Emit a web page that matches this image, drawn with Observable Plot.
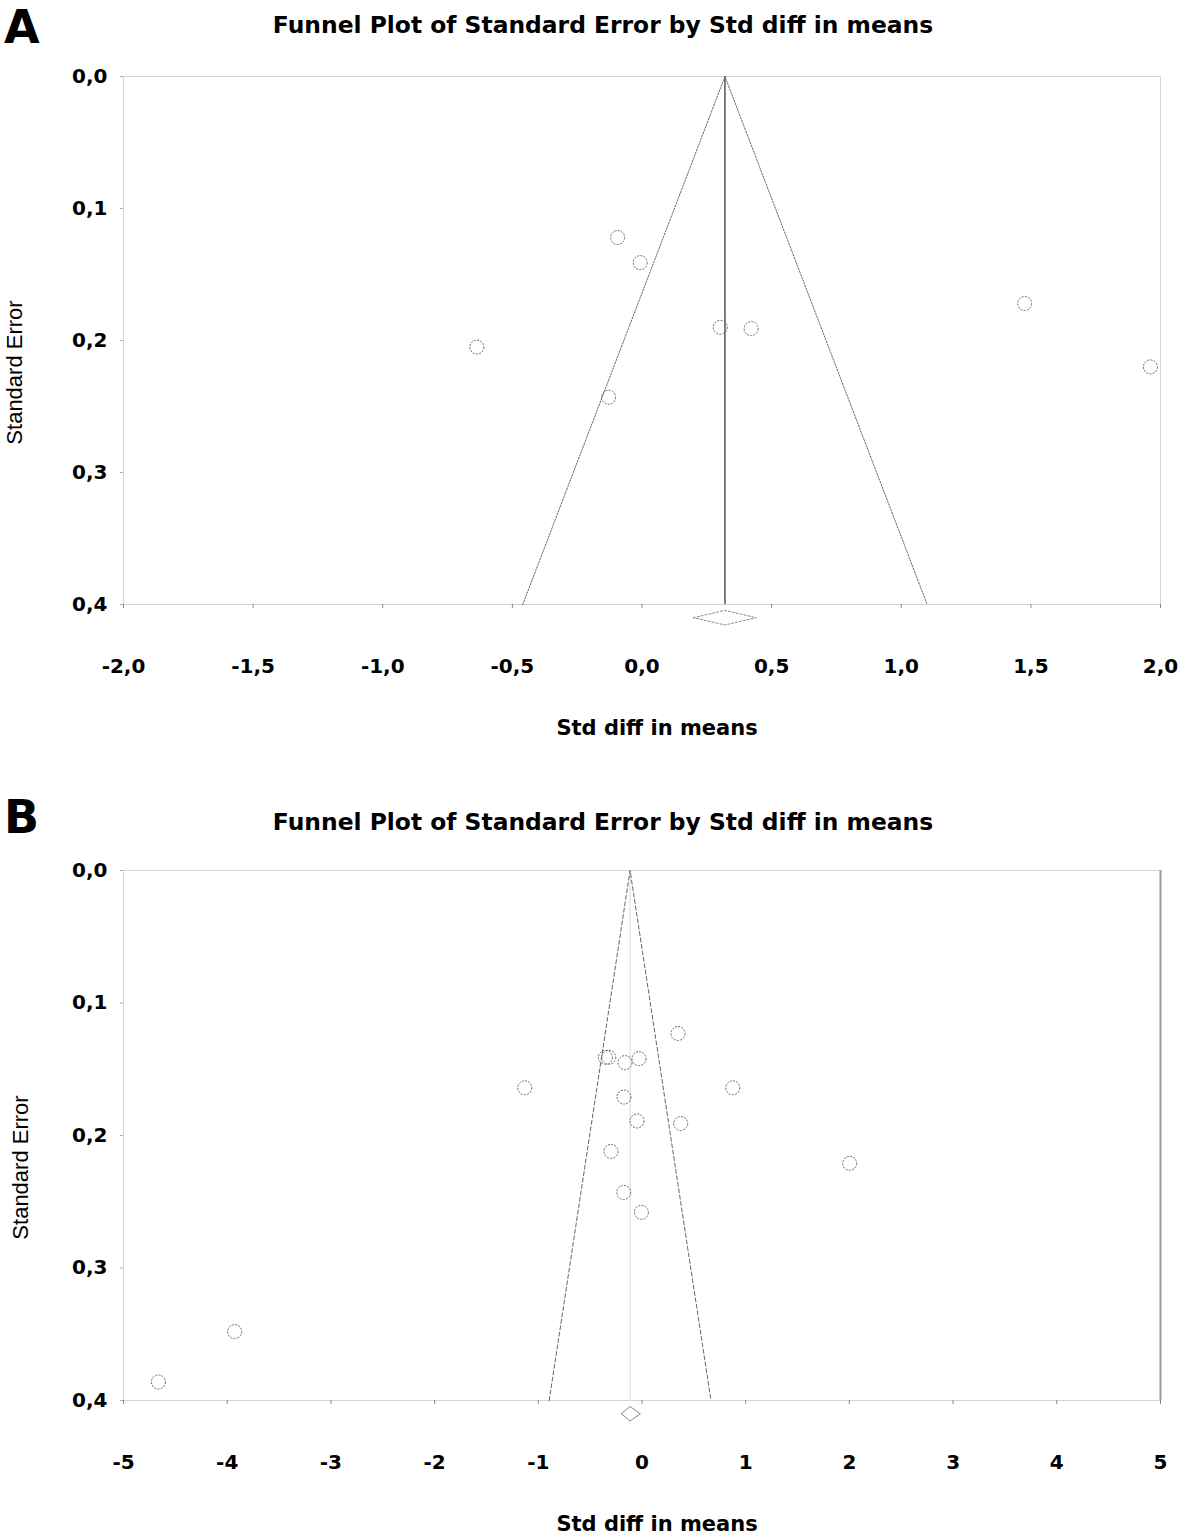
<!DOCTYPE html>
<html>
<head>
<meta charset="utf-8">
<script src="https://cdn.jsdelivr.net/npm/d3@7"></script>
<script src="https://cdn.jsdelivr.net/npm/@observablehq/plot@0.6"></script>
<style>
  body { margin: 0; background: #fff; }
  #wrap { position: relative; width: 1181px; height: 1536px; background: #fff; overflow: hidden; }
  .letter { position: absolute; left: 4px; font: bold 46px "DejaVu Sans", sans-serif; line-height: normal; color: #000; }
  .title { position: absolute; left: 603px; transform: translateX(-50%); white-space: nowrap;
           font: bold 23.4px "DejaVu Sans", sans-serif; line-height: 24px; color: #000; }
  .panel { position: absolute; left: 0; }
</style>
</head>
<body>
<div id="wrap">
  <div class="letter" style="top:0px">A</div>
  <div class="title" id="tA" style="top:13px"></div>
  <div class="panel" id="pA" style="top:50px"></div>
  <div class="letter" style="top:790px">B</div>
  <div class="title" id="tB" style="top:810px"></div>
  <div class="panel" id="pB" style="top:845px"></div>
</div>
<script>
// ---- texts ----
const titleText = "Funnel Plot of Standard Error by Std diff in means";
const xLabelText = "Std diff in means";
const yLabelText = "Standard Error";

// ---- Panel A data ----
const effA = [-0.094, -0.007, -0.637, -0.129, 0.302, 0.421, 1.476, 1.961];
const seA  = [0.122, 0.141, 0.205, 0.243, 0.190, 0.191, 0.172, 0.220];
const meanA = 0.32;
const funnelA_X = [-0.46, 0.32, 1.10];
const funnelA_Y = [0.4, 0.0, 0.4];
const ciA = [0.198, 0.441];
const xTicksA = [-2, -1.5, -1, -0.5, 0, 0.5, 1, 1.5, 2];

// ---- Panel B data ----
const effB = [0.347, -0.353, -0.321, -0.164, -0.029, -1.131, 0.875, -0.174, -0.048, 0.373, -0.299, -0.176, -0.006, 2.003, -3.928, -4.663];
const seB  = [0.123, 0.141, 0.141, 0.145, 0.142, 0.164, 0.164, 0.171, 0.189, 0.191, 0.212, 0.243, 0.258, 0.221, 0.348, 0.386];
const meanB = -0.115;
const funnelB_X = [-0.895, -0.115, 0.665];
const funnelB_Y = [0.4, 0.0, 0.4];
const ciB = [-0.199, -0.016];
const xTicksB = [-5, -4, -3, -2, -1, 0, 1, 2, 3, 4, 5];

const yTicks = [0, 0.1, 0.2, 0.3, 0.4];
const diamondSE = 0.41;      // diamond drawn just below the axis
const diamondHalf = 0.0055;  // half height of the diamond in SE units

const comma1 = d => d.toFixed(1).replace(".", ",").replace("\u2212", "-");
const intFmt = d => String(d);

document.getElementById("tA").textContent = titleText;
document.getElementById("tB").textContent = titleText;

function panel(o) {
  const studies = o.eff.map((e, i) => ({x: e, y: o.se[i]}));
  const funnel = o.funnelX.map((x, i) => ({x, y: o.funnelY[i]}));
  const dia = [
    {x: o.ci[0], y: diamondSE},
    {x: o.mean, y: diamondSE - diamondHalf},
    {x: o.ci[1], y: diamondSE},
    {x: o.mean, y: diamondSE + diamondHalf},
    {x: o.ci[0], y: diamondSE}
  ];
  return Plot.plot({
    width: 1181,
    height: o.height,
    marginLeft: 123,
    marginRight: 21,
    marginTop: o.marginTop,
    marginBottom: o.height - o.marginTop - o.plotH,
    style: {fontFamily: "DejaVu Sans", fontWeight: "bold", fontSize: "20px", color: "#000", background: "#fff", overflow: "visible"},
    x: {domain: o.xDomain, ticks: o.xTicks, tickFormat: o.xFmt},
    y: {domain: [0, 0.4], reverse: true, ticks: yTicks, tickFormat: comma1},
    marks: [
      Plot.frame({stroke: "#d4d4d4"}),
      o.rightEdge ? Plot.ruleX([o.xDomain[1]], {stroke: "#999", strokeWidth: 2}) : null,
      Plot.axisX({ticks: o.xTicks, tickFormat: o.xFmt, tickSize: 4, tickPadding: 50, stroke: "#888", fill: "#000", label: null}),
      Plot.axisY({ticks: yTicks, tickFormat: comma1, tickSize: 3, tickPadding: 13, stroke: "#aaa", fill: "#000", label: null}),
      Plot.ruleX([o.mean], {y1: 0, y2: 0.4, stroke: o.meanStroke, strokeWidth: o.meanWidth}),
      Plot.line(funnel, {x: "x", y: "y", stroke: "#666", strokeWidth: 1, strokeDasharray: o.funnelDash}),
      Plot.line(dia, {x: "x", y: "y", stroke: "#888", strokeWidth: 1, strokeDasharray: o.diaDash}),
      Plot.dot(studies, {x: "x", y: "y", r: 7, stroke: "#666", strokeWidth: 1, strokeDasharray: "2,1.3", fill: "none"}),
      Plot.text([xLabelText], {frameAnchor: "bottom", dy: 130, dx: 15, fontSize: 21, fontWeight: "bold", fill: "#000"}),
      Plot.text([yLabelText], {frameAnchor: "left", textAnchor: "middle", rotate: -90, dx: o.yLabDx, dy: 32, fontSize: 22, fontWeight: "normal", fontFamily: "Liberation Sans, Arial, sans-serif", fill: "#000"})
    ]
  });
}

document.getElementById("pA").appendChild(panel({
  eff: effA, se: seA, mean: meanA, funnelX: funnelA_X, funnelY: funnelA_Y, ci: ciA,
  xDomain: [-2, 2], xTicks: xTicksA, xFmt: comma1,
  height: 740, marginTop: 26, plotH: 528,
  meanStroke: "#555", meanWidth: 1.5, funnelDash: "1.5,1.5", diaDash: "2,2",
  rightEdge: false, yLabDx: -109
}));

document.getElementById("pB").appendChild(panel({
  eff: effB, se: seB, mean: meanB, funnelX: funnelB_X, funnelY: funnelB_Y, ci: ciB,
  xDomain: [-5, 5], xTicks: xTicksB, xFmt: intFmt,
  height: 691, marginTop: 25, plotH: 530,
  meanStroke: "#d8d8d8", meanWidth: 1, funnelDash: "4,2.5", diaDash: null,
  rightEdge: true, yLabDx: -103
}));
</script>
</body>
</html>
